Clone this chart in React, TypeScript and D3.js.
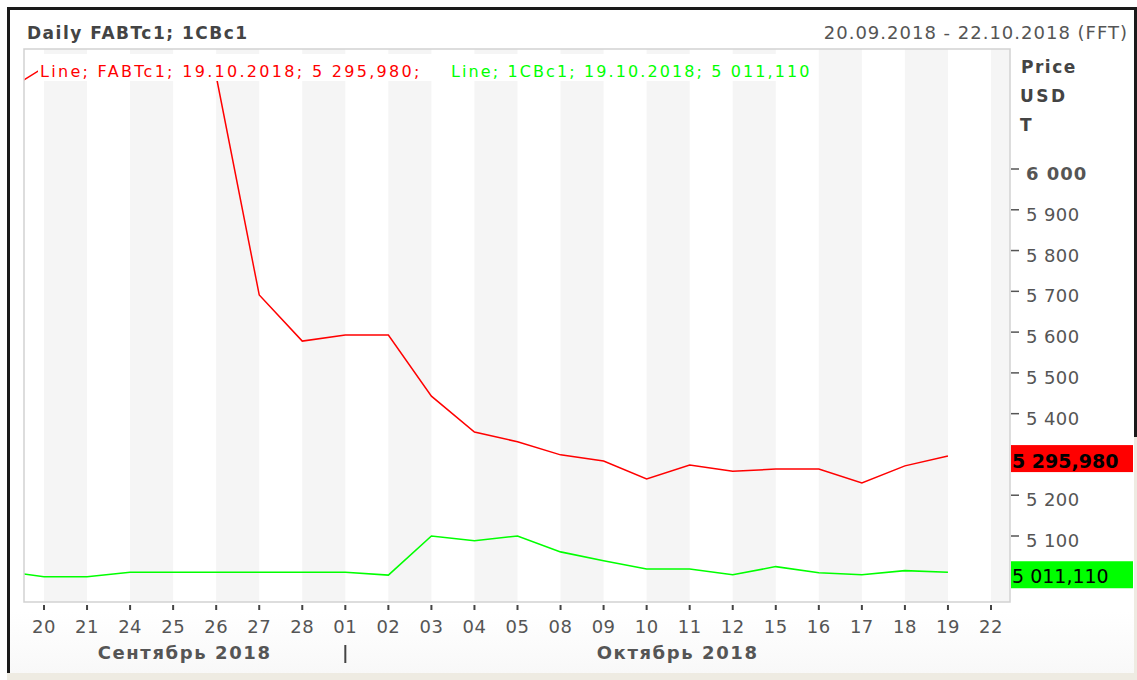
import React from "react";
import * as d3 from "d3";

// axis sessions (20.09.2018 - 22.10.2018)
const axisDays = ["20", "21", "24", "25", "26", "27", "28", "01", "02", "03", "04", "05", "08", "09", "10", "11", "12", "15", "16", "17", "18", "19", "22"];
const monthLabels = ["Сентябрь 2018", "Октябрь 2018"];
const monthStartIndex = [0, 7]; // index of first session of each month

// 19.09 session, just before the window (only its segment shows)
const fabtPrev = 6184;
const cbPrev = 5015;

// closes 20.09 .. 19.10
const fabtValues = [6249, 6245, 6240, 6238, 6228, 5691, 5578, 5593, 5593, 5443, 5355, 5331, 5299, 5284, 5240, 5274, 5259, 5264, 5264, 5230, 5272, 5295.98];
const cbValues = [5000, 5000, 5011, 5011, 5011, 5011, 5011, 5011, 5004, 5100, 5088.5, 5100, 5061, 5039.5, 5019, 5019, 5005, 5025, 5010, 5005, 5015, 5011.11];

const yTicks = [5000, 5100, 5200, 5300, 5400, 5500, 5600, 5700, 5800, 5900, 6000];
const lastFabt = "5 295,980";
const lastCb = "5 011,110";

const FONT = "'DejaVu Sans', Verdana, sans-serif";
const RED = "#ff0000";
const GREEN = "#00ff00";

export default function App() {
  const plot = { left: 24, right: 1010, top: 49, bottom: 602 };

  const x = d3.scaleLinear().domain([0, axisDays.length - 1]).range([44, 991]);
  const y = d3.scaleLinear().domain([5100, 6000]).range([536, 169]);

  const fmt = (v: number) => d3.format(",")(v).replace(/,/g, " ");

  const line = d3
    .line<number>()
    .x((_, i) => x(i - 1))
    .y((d) => y(d));

  const fabtPath = line([fabtPrev, ...fabtValues]) ?? "";
  const cbPath = line([cbPrev, ...cbValues]) ?? "";

  const stripes = axisDays
    .map((_, i) => i)
    .filter((i) => i % 2 === 0)
    .map((i) => {
      const x0 = x(i);
      const x1 = i + 1 < axisDays.length ? x(i + 1) : plot.right;
      return { x0, x1 };
    });

  const monthCenters = monthStartIndex.map((s, k) => {
    const a = k === 0 ? plot.left : x(s);
    const b = k + 1 < monthStartIndex.length ? x(monthStartIndex[k + 1]) : plot.right;
    return (a + b) / 2;
  });

  const lastF = fabtValues[fabtValues.length - 1];
  const lastC = cbValues[cbValues.length - 1];

  // tags hide the ticks under them
  const tagTops = [y(lastF) - 11, y(lastC) - 11];
  const visibleTicks = yTicks.filter(
    (t) => !tagTops.some((top) => y(t) > top - 6 && y(t) < top + 27)
  );

  return (
    <svg
      width={1137}
      height={680}
      style={{ position: "absolute", left: 0, top: 0, fontFamily: FONT }}
    >
      <defs>
        <clipPath id="plotClip">
          <rect x={plot.left} y={plot.top} width={plot.right - plot.left} height={plot.bottom - plot.top} />
        </clipPath>
        <linearGradient id="bottomFade" x1="0" y1="0" x2="0" y2="1">
          <stop offset="0" stopColor="#ffffff" />
          <stop offset="1" stopColor="#f8f8f8" />
        </linearGradient>
      </defs>

      {/* frame */}
      <rect x={0} y={0} width={1137} height={680} fill="#ffffff" />
      <rect x={10} y={612} width={1124} height={61} fill="url(#bottomFade)" />
      <rect x={7} y={7} width={1130} height={3} fill="#1a1a1a" />
      <rect x={7} y={7} width={3} height={666} fill="#1a1a1a" />
      <rect x={1134} y={7} width={3} height={430} fill="#1a1a1a" />
      <rect x={1134} y={437} width={3} height={243} fill="#eeebe2" />
      <rect x={7} y={673} width={1130} height={7} fill="#eeebe2" />

      {/* header */}
      <text x={27} y={39} fontSize={17} fontWeight="bold" fill="#444" letterSpacing={1.5}>
        Daily FABTc1; 1CBc1
      </text>
      <text x={1128} y={39} fontSize={18} fill="#555" textAnchor="end" letterSpacing={1}>
        20.09.2018 - 22.10.2018 (FFT)
      </text>

      {/* stripes */}
      {stripes.map((s, i) => (
        <rect key={i} x={s.x0} y={plot.top} width={s.x1 - s.x0} height={plot.bottom - plot.top} fill="#f5f5f5" />
      ))}

      {/* series */}
      <g clipPath="url(#plotClip)">
        <path d={cbPath} fill="none" stroke={GREEN} strokeWidth={1.6} />
        <path d={fabtPath} fill="none" stroke={RED} strokeWidth={1.5} />
      </g>

      {/* legend */}
      <rect x={38} y={54} width={395} height={27} fill="#ffffff" />
      <rect x={447} y={54} width={366} height={27} fill="#ffffff" />
      <text x={40} y={77} fontSize={16} fill={RED} letterSpacing={2.3}>
        Line; FABTc1; 19.10.2018; {lastFabt};
      </text>
      <text x={451} y={77} fontSize={16} fill={GREEN} letterSpacing={2.1}>
        Line; 1CBc1; 19.10.2018; {lastCb}
      </text>

      {/* plot border */}
      <rect
        x={plot.left}
        y={plot.top}
        width={plot.right - plot.left}
        height={plot.bottom - plot.top}
        fill="none"
        stroke="#d2d2d2"
        strokeWidth={1.5}
      />

      {/* y axis */}
      <text x={1021} y={73} fontSize={17} fontWeight="bold" fill="#444" letterSpacing={1.5}>Price</text>
      <text x={1020} y={102} fontSize={17} fontWeight="bold" fill="#444" letterSpacing={2.5}>USD</text>
      <text x={1020} y={131} fontSize={17} fontWeight="bold" fill="#444">T</text>
      {visibleTicks.map((t) => (
        <g key={t} transform={`translate(0,${y(t)})`}>
          <line x1={1011} x2={1019} y1={0} y2={0} stroke="#555" strokeWidth={1.5} />
          <text
            x={1026}
            y={11}
            fontSize={18}
            fill="#555"
            fontWeight={t === 6000 ? "bold" : "normal"}
            letterSpacing={t === 6000 ? 1 : 0.4}
          >
            {fmt(t)}
          </text>
        </g>
      ))}

      {/* last value tags */}
      <rect x={1011} y={y(lastF) - 11} width={122} height={27} fill={RED} />
      <text x={1012} y={y(lastF) + 12} fontSize={19} fontWeight="bold" fill="#000">
        {lastFabt}
      </text>
      <rect x={1011} y={y(lastC) - 11} width={122} height={27} fill={GREEN} />
      <text x={1012} y={y(lastC) + 11} fontSize={19} fill="#000">
        {lastCb}
      </text>

      {/* x axis */}
      {axisDays.map((d, i) => (
        <g key={i} transform={`translate(${x(i)},0)`}>
          <line x1={0} x2={0} y1={605} y2={610} stroke="#444" strokeWidth={2} />
          <text x={0} y={633} fontSize={18} fill="#555" textAnchor="middle" letterSpacing={0.5}>
            {d}
          </text>
        </g>
      ))}
      {monthLabels.map((m, k) => (
        <text
          key={m}
          x={monthCenters[k]}
          y={659}
          fontSize={18}
          fontWeight="bold"
          fill="#555"
          textAnchor="middle"
          letterSpacing={1.6}
        >
          {m}
        </text>
      ))}
      {monthStartIndex.slice(1).map((s) => (
        <line key={s} x1={x(s)} x2={x(s)} y1={645} y2={663} stroke="#444" strokeWidth={2} />
      ))}
    </svg>
  );
}
